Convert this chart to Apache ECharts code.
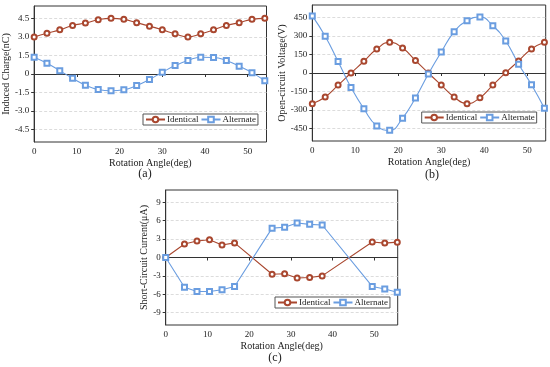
<!DOCTYPE html>
<html>
<head>
<meta charset="utf-8">
<script src="https://cdn.jsdelivr.net/npm/echarts@6/dist/echarts.min.js"></script>
<style>
html,body{margin:0;padding:0;background:#fff;}
#c{width:550px;height:367px;}
</style>
</head>
<body>
<div id="c"></div>
<script>
// ---- data ----
var angleAB = [0,3,6,9,12,15,18,21,24,27,30,33,36,39,42,45,48,51,54];
var chargeIdentical = [3.0,3.3,3.57,3.93,4.12,4.39,4.5,4.42,4.15,3.87,3.57,3.25,3.0,3.25,3.57,3.93,4.15,4.42,4.5];
var chargeAlternate = [1.36,0.87,0.27,-0.35,-0.9,-1.25,-1.36,-1.28,-0.93,-0.44,0.14,0.68,1.09,1.36,1.34,1.09,0.63,0.11,-0.55];
var voltageIdentical = [-248,-194,-98,0,95,194,248,202,101,0,-98,-194,-248,-200,-98,3,98,194,248];
var voltageAlternate = [462,297,93,-117,-289,-428,-464,-365,-202,-8,169,333,423,453,382,259,71,-95,-286];
var angleC = [0,4.5,7.5,10.5,13.5,16.5,25.5,28.5,31.5,34.5,37.5,49.5,52.5,55.5];
var currentIdentical = [0,2.2,2.7,2.9,2.05,2.38,-2.73,-2.65,-3.35,-3.25,-3.0,2.53,2.35,2.5];
var currentAlternate = [0,-4.85,-5.55,-5.55,-5.25,-4.72,4.78,4.93,5.63,5.4,5.3,-4.72,-5.12,-5.65];
var xTicks = [0,10,20,30,40,50];
var chargeTicks = [-4.5,-3,-1.5,0,1.5,3,4.5];
var voltageTicks = [-450,-300,-150,0,150,300,450];
var currentTicks = [-9,-6,-3,0,3,6,9];
var seriesNames = ['Identical','Alternate'];
var panelLabels = ['(a)','(b)','(c)'];
var xName = 'Rotation Angle(deg)';
var yNames = ['Induced Charge(nC)','Open-circuit Voltage(V)','Short-Circuit Current(\u03bcA)'];

// ---- styling ----
var FONT = '"Liberation Serif","Times New Roman",serif';
var RED = '#a9472f';
var BLUE = '#6a9de0';
var AX = '#333';

function pairs(xs, ys){ return xs.map(function(x,i){ return [x, ys[i]]; }); }

var grids = [
  {left:32.5, top:6, width:234, height:136},
  {left:312.3, top:5, width:233.4, height:136},
  {left:165.7, top:190, width:232, height:135}
];
grids.forEach(function(g){ g.show = true; g.borderColor = AX; g.borderWidth = 1; g.containLabel = false; });

function xAxis(idx, max){
  return {
    type:'value', gridIndex:idx, min:0, max:max,
    name:xName, nameLocation:'middle', nameGap:16,
    nameTextStyle:{fontFamily:FONT, fontSize:10, color:'#222'},
    axisLine:{show:true, lineStyle:{color:AX, width:1}},
    axisTick:{show:true, length:3, customValues:xTicks, lineStyle:{color:AX}},
    axisLabel:{customValues:xTicks, margin:5, fontFamily:FONT, fontSize:9, color:'#222'},
    splitLine:{show:false}
  };
}
function yAxis(idx, min, max, ticks, nameIdx, gap, fmt){
  return {
    type:'value', gridIndex:idx, min:min, max:max,
    name:yNames[nameIdx], nameLocation:'middle', nameGap:gap,
    nameTextStyle:{fontFamily:FONT, fontSize:10, color:'#222'},
    axisLine:{show:true, lineStyle:{color:AX, width:1}},
    axisTick:{show:true, length:3, customValues:ticks, lineStyle:{color:AX}},
    axisLabel:{customValues:ticks, margin:5, fontFamily:FONT, fontSize:9, color:'#222', formatter:fmt},
    splitLine:{show:true, customValues:ticks, lineStyle:{color:'#dcdcdc', width:1, type:[3,2]}}
  };
}
function ser(name, idx, data, color, sym, smooth){
  return {
    name:name, type:'line', xAxisIndex:idx, yAxisIndex:idx, data:data,
    smooth:smooth, symbol:sym, symbolSize:5,
    lineStyle:{color:color, width:1.1},
    itemStyle:{color:color, borderColor:color, borderWidth:1},
    emphasis:{disabled:true}, animation:false
  };
}
function legend(left, top){
  return {
    left:left, top:top, orient:'horizontal', data:seriesNames,
    itemWidth:19, itemHeight:7, itemGap:2, padding:[1,2],
    borderColor:'#555', borderWidth:1, borderRadius:0,
    textStyle:{fontFamily:FONT, fontSize:9, color:'#222', padding:[0,0,0,-3]},
    selectedMode:false
  };
}

var option = {
  backgroundColor:'#fff',
  animation:false,
  grid:grids,
  xAxis:[xAxis(0,54.4), xAxis(1,54.3), xAxis(2,55.6)],
  yAxis:[
    yAxis(0,-5.5,5.5,chargeTicks,0,21,function(v){ return v===0?'0':v.toFixed(1); }),
    yAxis(1,-550,550,voltageTicks,1,22,function(v){ return String(v); }),
    yAxis(2,-11,11,currentTicks,2,15,function(v){ return String(v); })
  ],
  legend:[legend(143,114), legend(421.7,112), legend(275,297)],
  series:[
    ser(seriesNames[0],0,pairs(angleAB,chargeIdentical),RED,'emptyCircle',0.5),
    ser(seriesNames[1],0,pairs(angleAB,chargeAlternate),BLUE,'emptyRect',0.5),
    ser(seriesNames[0],1,pairs(angleAB,voltageIdentical),RED,'emptyCircle',0.5),
    ser(seriesNames[1],1,pairs(angleAB,voltageAlternate),BLUE,'emptyRect',0.5),
    ser(seriesNames[0],2,pairs(angleC,currentIdentical),RED,'emptyCircle',false),
    ser(seriesNames[1],2,pairs(angleC,currentAlternate),BLUE,'emptyRect',false)
  ],
  graphic:[
    {type:'text', x:145, y:174, style:{text:panelLabels[0], fontFamily:FONT, fontSize:12, fill:'#222', textAlign:'center', textVerticalAlign:'middle'}},
    {type:'text', x:432, y:174.5, style:{text:panelLabels[1], fontFamily:FONT, fontSize:12, fill:'#222', textAlign:'center', textVerticalAlign:'middle'}},
    {type:'text', x:275, y:357.5, style:{text:panelLabels[2], fontFamily:FONT, fontSize:12, fill:'#222', textAlign:'center', textVerticalAlign:'middle'}}
  ]
};
var chart = echarts.init(document.getElementById('c'), null, {renderer:'canvas'});
chart.setOption(option);
</script>
</body>
</html>
